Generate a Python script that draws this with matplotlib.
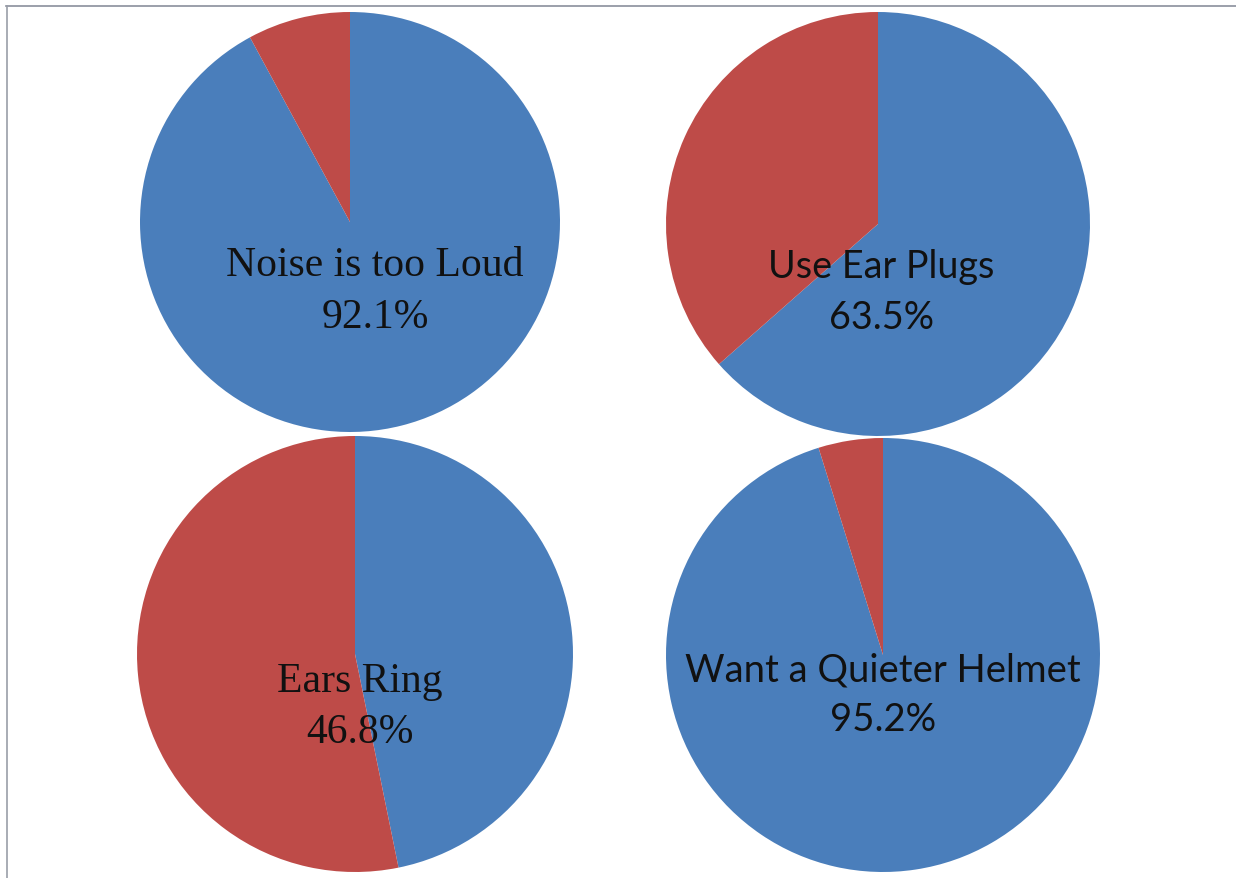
import matplotlib
matplotlib.use("Agg")
import matplotlib.pyplot as plt
from matplotlib.lines import Line2D

W, H = 1236, 879

labels = ["Noise is too Loud", "Use Ear Plugs", "Ears Ring", "Want a Quieter Helmet"]
yes_pct = [92.1, 63.5, 46.8, 95.2]
pct_labels = ["92.1%", "63.5%", "46.8%", "95.2%"]
fonts = ["Liberation Serif", "Lato", "Liberation Serif", "Lato"]

# layout (pixels): center x, center y (from top), radius, label x, label y lines
centers = [(350, 223, 210), (878, 225, 212), (355, 655, 218), (883, 656, 217)]
label_pos = [(375, 266, 318), (881, 267, 318), (360, 682, 733), (883, 671, 720)]
font_sizes = [30, 27.2, 30, 27.5]

blue = "#4A7EBB"
red = "#BE4B48"

fig = plt.figure(figsize=(W / 100, H / 100), dpi=100)
fig.patch.set_facecolor("white")

for i in range(4):
    cx, cy, r = centers[i]
    ax = fig.add_axes([(cx - r) / W, 1 - (cy + r) / H, 2 * r / W, 2 * r / H])
    ax.pie([yes_pct[i], 100 - yes_pct[i]], colors=[blue, red], startangle=90,
           counterclock=False, radius=1,
           wedgeprops=dict(linewidth=0, antialiased=True))
    ax.set_xlim(-1, 1)
    ax.set_ylim(-1, 1)
    ax.set_aspect("equal")
    ax.axis("off")
    lx, ly1, ly2 = label_pos[i]
    fig.text(lx / W, 1 - ly1 / H, labels[i], ha="center", va="center",
             fontsize=font_sizes[i], family=fonts[i], color="#111111")
    fig.text(lx / W, 1 - ly2 / H, pct_labels[i], ha="center", va="center",
             fontsize=font_sizes[i], family=fonts[i], color="#111111")

# frame lines (top and left)
fig.add_artist(Line2D([6 / W, 1], [1 - 7 / H, 1 - 7 / H], transform=fig.transFigure,
                      color="#8a8f9c", linewidth=1.2))
fig.add_artist(Line2D([7 / W, 7 / W], [0, 1 - 7 / H], transform=fig.transFigure,
                      color="#9a9ea8", linewidth=1.2))

fig.savefig("out.png", dpi=100, facecolor="white")
